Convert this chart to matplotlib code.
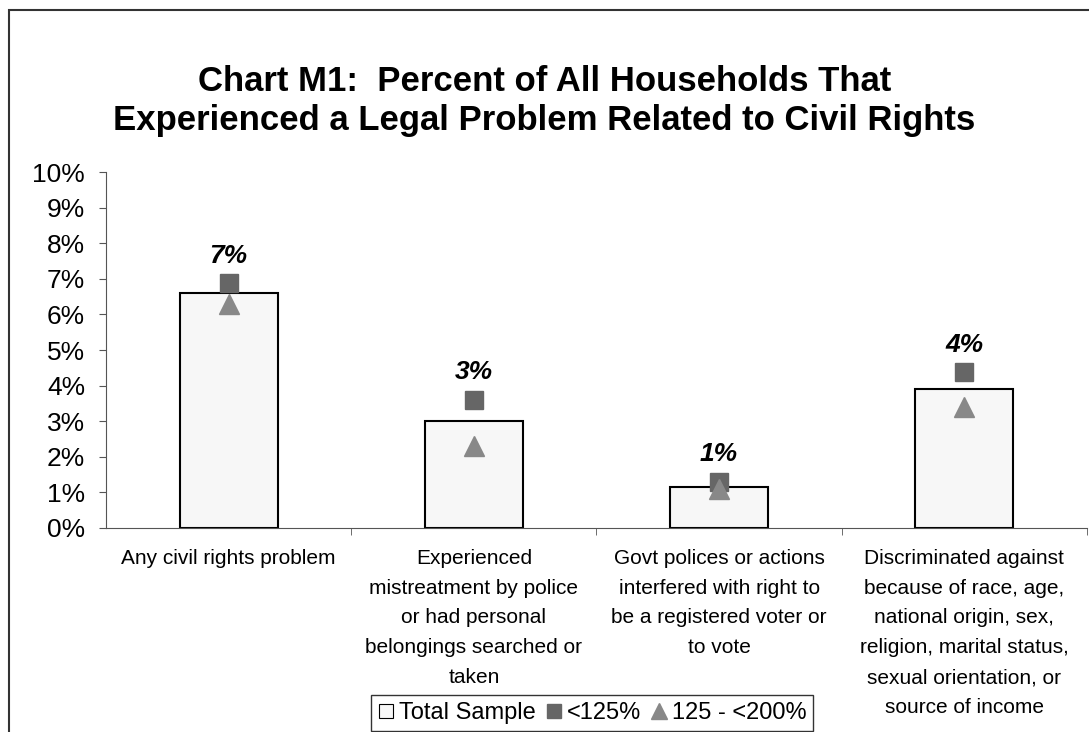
import numpy as np
import matplotlib
matplotlib.use("Agg")
import matplotlib.pyplot as plt
from matplotlib.lines import Line2D
from matplotlib.patches import Rectangle

plt.rcParams['font.family'] = ['Liberation Sans', 'DejaVu Sans']

# data
categories = [
    "Any civil rights problem",
    "Experienced\nmistreatment by police\nor had personal\nbelongings searched or\ntaken",
    "Govt polices or actions\ninterfered with right to\nbe a registered voter or\nto vote",
    "Discriminated against\nbecause of race, age,\nnational origin, sex,\nreligion, marital status,\nsexual orientation, or\nsource of income",
]
total_sample = [6.6, 3.0, 1.15, 3.9]
under_125 = [6.87, 3.6, 1.3, 4.37]
from_125_200 = [6.3, 2.3, 1.1, 3.4]
value_labels = ["7%", "3%", "1%", "4%"]

fig = plt.figure(figsize=(10.89, 7.32), dpi=100)
ax = fig.add_axes([0.0973, 0.2787, 0.9008, 0.4863])

x = np.arange(len(categories))
ax.bar(x, total_sample, width=0.4, color="#f7f7f7", edgecolor="black", linewidth=1.5, zorder=2)
ax.plot(x, under_125, ls="none", marker="s", ms=13, color="#666666", zorder=3)
ax.plot(x, from_125_200, ls="none", marker="^", ms=14, color="#888888", zorder=4)

for xi, v, lab in zip(x, under_125, value_labels):
    ax.annotate(lab, (xi, v), xytext=(0, 20), textcoords="offset points",
                ha="center", va="center", fontsize=19, fontweight="bold", fontstyle="italic")

ax.set_xlim(-0.5, 3.5)
ax.set_ylim(0, 10)
ax.set_yticks(range(0, 11))
ax.set_yticklabels([f"{i}%" for i in range(0, 11)], fontsize=19)
ax.set_xticks(x)
ax.set_xticklabels(categories, fontsize=15, va="top", linespacing=1.72)
ax.set_xticks([0.5, 1.5, 2.5, 3.5], minor=True)
ax.tick_params(axis="x", which="major", length=0, pad=15)
ax.tick_params(axis="x", which="minor", length=5, color="#555555")
ax.tick_params(axis="y", length=5, color="#555555", pad=10)

for s in ["top", "right"]:
    ax.spines[s].set_visible(False)
ax.spines["left"].set_color("#555555")
ax.spines["bottom"].set_color("#555555")

fig.text(0.5, 0.862, "Chart M1:  Percent of All Households That\nExperienced a Legal Problem Related to Civil Rights",
         ha="center", va="center", fontsize=25, fontweight="bold", linespacing=1.2)

handles = [
    Line2D([], [], ls="none", marker="s", ms=10, markerfacecolor="#f7f7f7", markeredgecolor="black", markeredgewidth=0.8),
    Line2D([], [], ls="none", marker="s", ms=10, color="#666666"),
    Line2D([], [], ls="none", marker="^", ms=12, color="#888888"),
]
leg = fig.legend(handles, ["Total Sample", "<125%", "125 - <200%"], loc="upper center",
                 bbox_to_anchor=(592 / 1089, 1 - 695 / 732), ncol=3, fontsize=17, frameon=True,
                 fancybox=False, edgecolor="black", handlelength=0.7, handletextpad=0.2,
                 columnspacing=0.4, borderpad=0.3, borderaxespad=0)
leg.get_frame().set_linewidth(1.0)

top = 1 - 9.5 / 732
fig.patches.append(Rectangle((8.5 / 1089, -0.1), 1.1, top + 0.1, transform=fig.transFigure,
                             fill=False, edgecolor="#333333", linewidth=1.5))

fig.savefig("out.png", dpi=100)
